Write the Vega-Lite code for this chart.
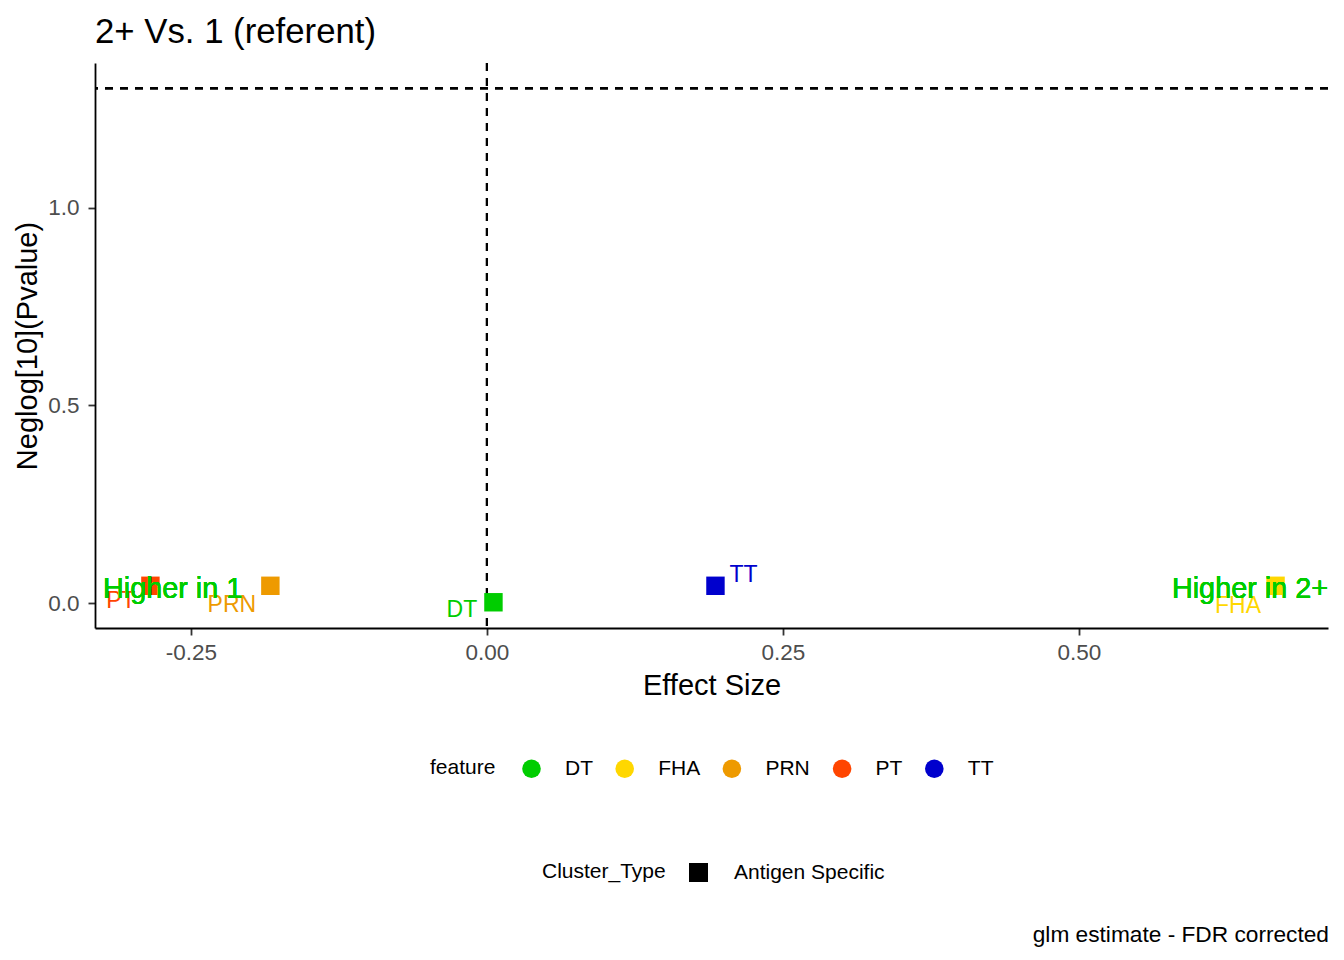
{
  "$schema": "https://vega.github.io/schema/vega-lite/v6.json",
  "background": "white",
  "padding": {"left": 13, "top": 15, "right": 16, "bottom": 10},
  "title": {
    "text": "glm estimate - FDR corrected",
    "orient": "bottom",
    "anchor": "end",
    "baseline": "alphabetic",
    "offset": 59,
    "fontSize": 22.7,
    "fontWeight": "normal",
    "color": "black"
  },
  "datasets": {
    "effects": [
      {"feature": "PT", "effect": -0.2842, "neglogp": 0.0446, "Cluster_Type": "Antigen Specific"},
      {"feature": "PRN", "effect": -0.1829, "neglogp": 0.0446, "Cluster_Type": "Antigen Specific"},
      {"feature": "DT", "effect": 0.0055, "neglogp": 0.003, "Cluster_Type": "Antigen Specific"},
      {"feature": "TT", "effect": 0.193, "neglogp": 0.0446, "Cluster_Type": "Antigen Specific"},
      {"feature": "FHA", "effect": 0.666, "neglogp": 0.0446, "Cluster_Type": "Antigen Specific"}
    ]
  },
  "vconcat": [
    {
      "width": 1233,
      "height": 565,
      "title": {
        "text": "2+ Vs. 1 (referent)",
        "anchor": "start",
        "frame": "group",
        "baseline": "alphabetic",
        "offset": -16,
        "fontSize": 34.75,
        "fontWeight": "normal",
        "color": "black"
      },
      "data": {"name": "effects"},
      "encoding": {
        "x": {
          "field": "effect",
          "type": "quantitative",
          "title": "Effect Size",
          "scale": {"domain": [-0.331, 0.7103], "nice": false, "zero": false},
          "axis": {
            "values": [-0.25, 0, 0.25, 0.5],
            "labelExpr": "replace(format(datum.value, '.2f'), '−', '-')",
            "labelPadding": 6,
            "titlePadding": 8
          }
        },
        "y": {
          "field": "neglogp",
          "type": "quantitative",
          "title": "Neglog[10](Pvalue)",
          "scale": {"domain": [-0.062, 1.365], "nice": false, "zero": false},
          "axis": {
            "values": [0, 0.5, 1],
            "format": ".1f",
            "labelPadding": 9,
            "titlePadding": 5
          }
        }
      },
      "layer": [
        {
          "mark": {"type": "rule", "strokeDash": [8, 7], "strokeWidth": 2, "color": "black"},
          "encoding": {"x": null, "y": {"datum": 1.30103}}
        },
        {
          "mark": {"type": "rule", "strokeDash": [8, 7], "strokeWidth": 2, "color": "black"},
          "encoding": {"x": {"datum": 0}, "y": null}
        },
        {
          "mark": {"type": "point", "filled": true, "opacity": 1, "size": 340, "strokeWidth": 0},
          "encoding": {
            "color": {
              "field": "feature",
              "type": "nominal",
              "scale": {
                "domain": ["DT", "FHA", "PRN", "PT", "TT"],
                "range": ["#00CD00", "#FFD700", "#EE9A00", "#FF4500", "#0000CD"]
              },
              "legend": {
                "title": "feature",
                "orient": "none",
                "legendX": 335,
                "legendY": 695,
                "direction": "horizontal",
                "titleOrient": "left",
                "symbolType": "circle",
                "symbolSize": 346,
                "symbolOpacity": 1,
                "symbolStrokeWidth": 0,
                "labelOffset": 23,
                "columnPadding": 21.2,
                "titlePadding": 25
              }
            },
            "shape": {
              "field": "Cluster_Type",
              "type": "nominal",
              "scale": {"range": ["square"]},
              "legend": {
                "title": "Cluster_Type",
                "orient": "none",
                "legendX": 447,
                "legendY": 799,
                "direction": "horizontal",
                "titleOrient": "left",
                "symbolSize": 361,
                "symbolOpacity": 1,
                "symbolFillColor": "black",
                "symbolStrokeColor": "black",
                "symbolStrokeWidth": 0,
                "labelOffset": 25,
                "titlePadding": 22
              }
            }
          }
        },
        {
          "transform": [{"filter": "datum.feature == 'PT'"}],
          "mark": {"type": "text", "fontSize": 23, "baseline": "middle", "dx": -29.5, "dy": 15},
          "encoding": {"text": {"field": "feature"}, "color": {"field": "feature", "type": "nominal"}}
        },
        {
          "transform": [{"filter": "datum.feature == 'PRN'"}],
          "mark": {"type": "text", "fontSize": 23, "baseline": "middle", "dx": -38.5, "dy": 19},
          "encoding": {"text": {"field": "feature"}, "color": {"field": "feature", "type": "nominal"}}
        },
        {
          "transform": [{"filter": "datum.feature == 'DT'"}],
          "mark": {"type": "text", "fontSize": 23, "baseline": "middle", "dx": -31.5, "dy": 8},
          "encoding": {"text": {"field": "feature"}, "color": {"field": "feature", "type": "nominal"}}
        },
        {
          "transform": [{"filter": "datum.feature == 'TT'"}],
          "mark": {"type": "text", "fontSize": 23, "baseline": "middle", "dx": 28, "dy": -10.5},
          "encoding": {"text": {"field": "feature"}, "color": {"field": "feature", "type": "nominal"}}
        },
        {
          "transform": [{"filter": "datum.feature == 'FHA'"}],
          "mark": {"type": "text", "fontSize": 23, "baseline": "middle", "dx": -37.5, "dy": 20},
          "encoding": {"text": {"field": "feature"}, "color": {"field": "feature", "type": "nominal"}}
        },
        {
          "mark": {"type": "text", "fontSize": 28.8, "align": "left", "baseline": "middle", "color": "#00CD00"},
          "encoding": {"x": {"datum": -0.3243}, "y": {"datum": 0.037}, "text": {"value": "Higher in 1"}}
        },
        {
          "mark": {"type": "text", "fontSize": 28.8, "align": "right", "baseline": "middle", "color": "#00CD00"},
          "encoding": {"x": {"datum": 0.7103}, "y": {"datum": 0.037}, "text": {"value": "Higher in 2+"}}
        }
      ]
    }
  ],
  "config": {
    "font": "Liberation Sans",
    "view": {"stroke": null},
    "axis": {
      "grid": false,
      "domainColor": "black",
      "domainWidth": 1.8,
      "tickColor": "#333333",
      "tickWidth": 1.8,
      "tickSize": 7,
      "labelFontSize": 22.5,
      "labelColor": "#4D4D4D",
      "labelFlush": false,
      "labelOverlap": false,
      "titleFontSize": 29,
      "titleFontWeight": "normal",
      "titleColor": "black"
    },
    "legend": {
      "labelFontSize": 21,
      "titleFontSize": 21,
      "titleFontWeight": "normal",
      "labelColor": "black",
      "titleColor": "black",
      "padding": 0
    }
  }
}
